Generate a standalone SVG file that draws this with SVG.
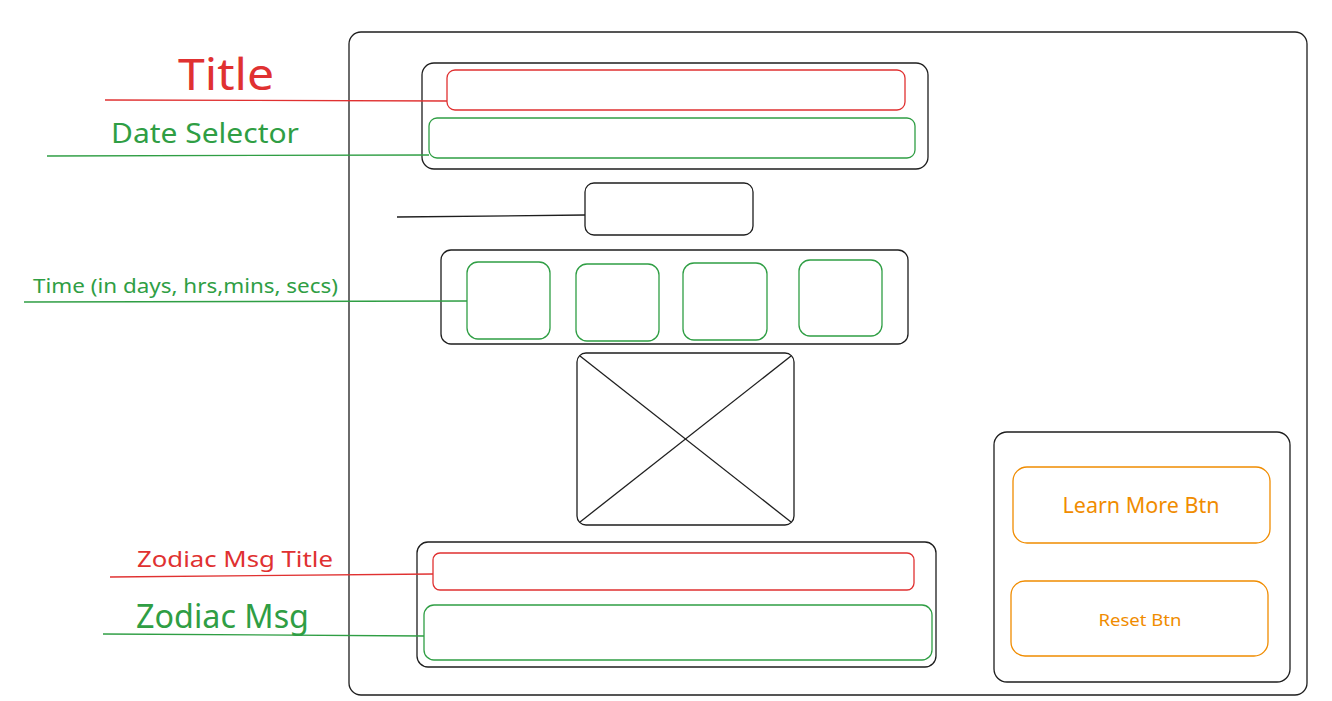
<svg xmlns="http://www.w3.org/2000/svg" width="1332" height="701" viewBox="0 0 1332 701">
<style>
.k{fill:none;stroke:#1e1e1e;stroke-width:1.3}
.r{fill:none;stroke:#e03131;stroke-width:1.3}
.g{fill:none;stroke:#2f9e44;stroke-width:1.3}
.o{fill:none;stroke:#f08c00;stroke-width:1.3}
text{font-family:"Noto Sans","Open Sans",sans-serif}
.tr{fill:#e03131}
.tg{fill:#2f9e44}
.to{fill:#f08c00}
</style>
<rect width="1332" height="701" fill="#ffffff"/>
<g id="frame"><rect class="k" x="349" y="32" width="958" height="663" rx="12"/></g>
<g id="header">
<rect class="k" x="422" y="63" width="506" height="106" rx="12"/>
<rect id="title-box" class="r" x="447" y="70" width="458" height="40" rx="8"/>
<rect id="date-box" class="g" x="429" y="118" width="486" height="40" rx="8"/>
</g>
<g id="small-box"><rect class="k" x="585" y="183" width="168" height="52" rx="9"/></g>
<g id="time">
<rect class="k" x="441" y="250" width="467" height="94" rx="10"/>
<rect class="g" x="467" y="262" width="83" height="77" rx="11"/>
<rect class="g" x="576" y="264" width="83" height="77" rx="11"/>
<rect class="g" x="683" y="263" width="84" height="77" rx="11"/>
<rect class="g" x="799" y="260" width="83" height="76" rx="11"/>
</g>
<g id="image">
<rect class="k" x="577" y="353" width="217" height="172" rx="9"/>
<line class="k" x1="580" y1="356" x2="791" y2="522"/>
<line class="k" x1="791" y1="356" x2="580" y2="522"/>
</g>
<g id="zodiac">
<rect class="k" x="417" y="542" width="519" height="125" rx="11"/>
<rect class="r" x="433" y="553" width="481" height="37" rx="7"/>
<rect class="g" x="424" y="605" width="508" height="55" rx="10"/>
</g>
<g id="buttons">
<rect class="k" x="994" y="432" width="296" height="250" rx="13"/>
<g id="learn-more"><rect class="o" x="1013" y="467" width="257" height="76" rx="14"/>
<text class="to" x="1141" y="513" font-size="21" text-anchor="middle" textLength="157" lengthAdjust="spacingAndGlyphs">Learn More Btn</text></g>
<g id="reset"><rect class="o" x="1011" y="581" width="257" height="75" rx="14"/>
<text class="to" x="1140" y="626" font-size="17" text-anchor="middle" textLength="83" lengthAdjust="spacingAndGlyphs">Reset Btn</text></g>
</g>
<g id="connectors">
<line class="r" stroke-width="2" x1="105" y1="100" x2="447" y2="101"/>
<line class="g" x1="47" y1="156" x2="429" y2="155"/>
<line class="k" x1="397" y1="217" x2="585" y2="215"/>
<line class="g" stroke-width="1.8" x1="24" y1="302" x2="467" y2="301"/>
<line class="r" stroke-width="1.8" x1="110" y1="577" x2="433" y2="574"/>
<line class="g" stroke-width="1.6" x1="103" y1="634" x2="424" y2="636"/>
</g>
<g id="labels">
<text class="tr" x="178" y="90" font-size="44" textLength="96" lengthAdjust="spacingAndGlyphs">Title</text>
<text class="tg" x="111" y="143" font-size="27" textLength="188" lengthAdjust="spacingAndGlyphs">Date Selector</text>
<text class="tg" x="33" y="293" font-size="20" textLength="305" lengthAdjust="spacingAndGlyphs">Time (in days, hrs,mins, secs)</text>
<text class="tr" x="137" y="567" font-size="22" textLength="196" lengthAdjust="spacingAndGlyphs">Zodiac Msg Title</text>
<text class="tg" x="136" y="628" font-size="32" textLength="173" lengthAdjust="spacingAndGlyphs">Zodiac Msg</text>
</g>
</svg>
